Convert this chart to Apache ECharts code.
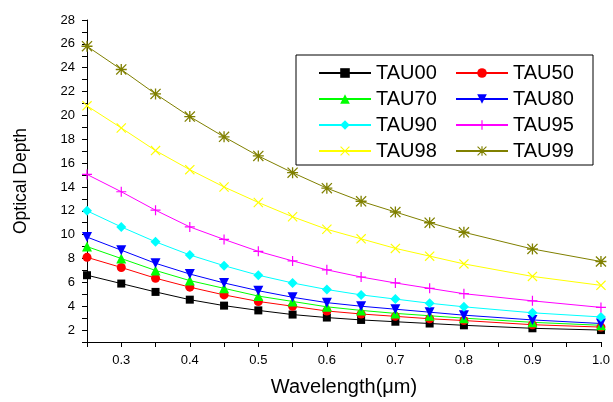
<!DOCTYPE html>
<html>
<head>
<meta charset="utf-8">
<title>Optical Depth</title>
<script src="https://cdn.jsdelivr.net/npm/echarts@6/dist/echarts.min.js"></script>
<style>
  html, body { margin: 0; padding: 0; background: #fff; }
  #chart { width: 613px; height: 402px; }
</style>
</head>
<body>
<div id="chart"></div>
<script>
// wavelength (um)
var wavelength = [0.25, 0.3, 0.35, 0.4, 0.45, 0.5, 0.55, 0.6, 0.65, 0.7, 0.75, 0.8, 0.9, 1.0]

var tau00 = [6.6, 5.9, 5.2, 4.55, 4.05, 3.65, 3.3, 3.05, 2.85, 2.7, 2.55, 2.4, 2.15, 2.0]
var tau50 = [8.1, 7.25, 6.35, 5.6, 4.95, 4.4, 4.0, 3.6, 3.35, 3.15, 2.95, 2.8, 2.45, 2.25]
var tau70 = [9.0, 8.0, 7.0, 6.15, 5.5, 4.85, 4.4, 3.95, 3.65, 3.4, 3.2, 3.0, 2.65, 2.4]
var tau80 = [9.8, 8.7, 7.6, 6.7, 5.95, 5.3, 4.75, 4.3, 4.0, 3.75, 3.5, 3.25, 2.85, 2.55]
var tau90 = [12.0, 10.65, 9.4, 8.3, 7.4, 6.6, 5.95, 5.4, 4.95, 4.6, 4.25, 3.95, 3.45, 3.1]
var tau95 = [15.05, 13.6, 12.05, 10.65, 9.6, 8.6, 7.8, 7.05, 6.45, 5.95, 5.5, 5.05, 4.45, 3.9]
var tau98 = [20.8, 18.95, 17.05, 15.45, 14.0, 12.7, 11.5, 10.45, 9.65, 8.85, 8.2, 7.55, 6.5, 5.75]
var tau99 = [25.8, 23.85, 21.8, 19.9, 18.2, 16.6, 15.2, 13.9, 12.8, 11.9, 11.0, 10.2, 8.8, 7.75]

var names = ['TAU00', 'TAU50', 'TAU70', 'TAU80', 'TAU90', 'TAU95', 'TAU98', 'TAU99']
var values = [tau00, tau50, tau70, tau80, tau90, tau95, tau98, tau99]
var colors = ['#000000', '#ff0000', '#00ff00', '#0000ff', '#00ffff', '#ff00ff', '#ffff00', '#808000']

// origin style markers
var plusPath = 'M4.4,0H5.6V4.4H10V5.6H5.6V10H4.4V5.6H0V4.4H4.4Z'
var crossPath = 'M0.8,0L5,4.2L9.2,0L10,0.8L5.8,5L10,9.2L9.2,10L5,5.8L0.8,10L0,9.2L4.2,5L0,0.8Z'
var symbols = [
  'rect',
  'circle',
  'triangle',
  'path://M0,0L10,0L5,9Z',
  'diamond',
  'path://' + plusPath,
  'path://' + crossPath,
  'path://' + plusPath + crossPath
]
var sizes = [8, 9, 10, 10, 10, 10, 10, 11]

var fontFamily = 'Liberation Sans, Arial, sans-serif'

var series = []
for (var i = 0; i < names.length; i++) {
  var points = []
  for (var j = 0; j < wavelength.length; j++) {
    points.push([wavelength[j], values[i][j]])
  }
  series.push({
    name: names[i],
    type: 'line',
    data: points,
    symbol: symbols[i],
    symbolSize: sizes[i],
    showAllSymbol: true,
    lineStyle: { width: 1, color: colors[i] },
    itemStyle: { color: colors[i] },
    emphasis: { disabled: true }
  })
}

var legendBase = {
  orient: 'vertical',
  top: 58,
  itemWidth: 52,
  itemHeight: 12,
  itemGap: 6,
  selectedMode: false,
  textStyle: { fontSize: 20, lineHeight: 20, color: '#000', fontFamily: fontFamily }
}

var chart = echarts.init(document.getElementById('chart'))
chart.setOption({
  animation: false,
  backgroundColor: '#fff',
  color: colors,
  grid: { left: 87, right: 11, top: 20, bottom: 57 },
  graphic: [{
    type: 'rect',
    z: 3,
    shape: { x: 296, y: 55, width: 297, height: 110 },
    style: { fill: '#fff', stroke: '#000', lineWidth: 1 }
  }],
  legend: [
    Object.assign({ left: 313, data: ['TAU00', 'TAU70', 'TAU90', 'TAU98'] }, legendBase),
    Object.assign({ left: 450, data: ['TAU50', 'TAU80', 'TAU95', 'TAU99'] }, legendBase)
  ],
  xAxis: {
    type: 'value',
    min: 0.25,
    max: 1.0,
    interval: 0.05,
    name: 'Wavelength(\u03bcm)',
    nameLocation: 'middle',
    nameGap: 35,
    nameTextStyle: { fontSize: 20, color: '#000', fontFamily: fontFamily },
    axisLine: { onZero: false, lineStyle: { color: '#000', width: 1 } },
    axisTick: { inside: false, length: 5, lineStyle: { color: '#000' } },
    axisLabel: {
      margin: 12,
      fontSize: 13,
      color: '#000',
      fontFamily: fontFamily,
      formatter: function (v) {
        var k = Math.round(v * 100)
        return k % 10 === 0 ? (k / 100).toFixed(1) : ''
      }
    },
    splitLine: { show: false }
  },
  yAxis: {
    type: 'value',
    min: 1,
    max: 28,
    interval: 1,
    name: 'Optical Depth',
    nameLocation: 'middle',
    nameGap: 57,
    nameTextStyle: { fontSize: 17.5, color: '#000', fontFamily: fontFamily },
    axisLine: { show: true, onZero: false, lineStyle: { color: '#000', width: 1 } },
    axisTick: { show: true, inside: false, length: 5, lineStyle: { color: '#000' } },
    axisLabel: {
      margin: 12,
      fontSize: 13,
      color: '#000',
      fontFamily: fontFamily,
      formatter: function (v) {
        return v % 2 === 0 ? String(v) : ''
      }
    },
    splitLine: { show: false }
  },
  series: series
})
</script>
</body>
</html>
